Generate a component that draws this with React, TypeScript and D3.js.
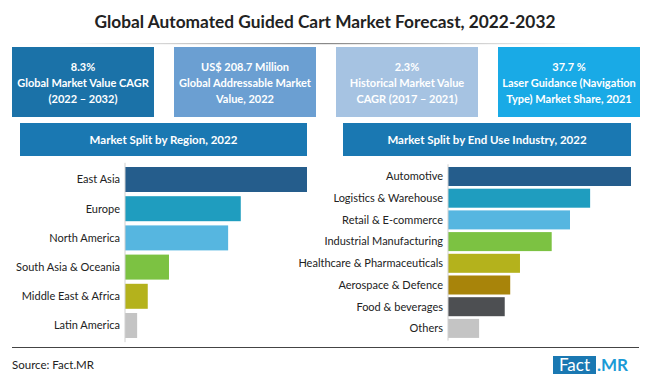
import React from "react";
import * as d3 from "d3";

const W = 650;
const H = 381;

const kpiValues = ["8.3%", "US$ 208.7 Million", "2.3%", "37.7 %"];
const kpiLabels = [
  ["Global Market Value CAGR", "(2022 – 2032)"],
  ["Global Addressable Market", "Value, 2022"],
  ["Historical Market Value", "CAGR  (2017 – 2021)"],
  ["Laser Guidance (Navigation", "Type) Market Share, 2021"],
];
const kpiColors = ["#1b72a8", "#6b9fd2", "#a6c3e2", "#19aae6"];

const regionCategories = [
  "East Asia",
  "Europe",
  "North America",
  "South Asia & Oceania",
  "Middle East & Africa",
  "Latin America",
];
const regionValues = [36, 22.9, 20.4, 8.7, 4.5, 2.4];
const regionColors = ["#255d8c", "#1f9dbf", "#56b6e0", "#7cc242", "#b4b21c", "#c4c4c4"];

const industryCategories = [
  "Automotive",
  "Logistics & Warehouse",
  "Retail & E-commerce",
  "Industrial Manufacturing",
  "Healthcare & Pharmaceuticals",
  "Aerospace & Defence",
  "Food & beverages",
  "Others",
];
const industryValues = [30, 23.3, 20.0, 17.0, 11.8, 10.2, 9.3, 5.1];
const industryColors = [
  "#255d8c",
  "#1f9dbf",
  "#56b6e0",
  "#7cc242",
  "#b4b21c",
  "#a8840a",
  "#4d4f52",
  "#c4c4c4",
];

const FONT = "Lato, 'Open Sans', sans-serif";

function BarPanel({
  cats,
  vals,
  colors,
  x0,
  x1,
  max,
  y0,
  y1,
  pad,
  title,
  hx0,
  hx1,
}: any) {
  const x = d3.scaleLinear().domain([0, max]).range([x0, x1]);
  const y = d3.scaleBand<string>().domain(cats).range([y0, y1]).paddingInner(pad).paddingOuter(pad);
  return (
    <g>
      <rect x={hx0} y={123} width={hx1 - hx0} height={33} fill="#1a78b2" />
      <text
        x={(hx0 + hx1) / 2}
        y={143.5}
        textAnchor="middle"
        fill="#fff"
        fontWeight="bold"
        fontSize={11.5}
        fontFamily={FONT}
      >
        {title}
      </text>
      {cats.map((c: string, i: number) => (
        <g key={c}>
          <rect
            x={x(0)}
            y={y(c)}
            width={x(vals[i]) - x(0)}
            height={y.bandwidth()}
            fill={colors[i]}
          />
          <text
            x={x(0) - 5}
            y={(y(c) as number) + y.bandwidth() / 2}
            dy="0.35em"
            textAnchor="end"
            fontSize={11}
            fill="#222"
            fontFamily={FONT}
          >
            {c}
          </text>
        </g>
      ))}
      <line x1={x(0)} x2={x(0)} y1={y0} y2={y1} stroke="#d0d0d0" strokeWidth={1} />
    </g>
  );
}

export default function App() {
  const boxX = [12, 174, 336, 498];
  const boxW = 142;
  return (
    <svg
      width={W}
      height={H}
      style={{ position: "absolute", left: 0, top: 0, background: "#fff" }}
      fontFamily={FONT}
    >
      <defs>
        <linearGradient id="tl" x1="0" x2="1" y1="0" y2="0">
          <stop offset="0" stopColor="#999" stopOpacity={0} />
          <stop offset="0.5" stopColor="#888" stopOpacity={1} />
          <stop offset="1" stopColor="#999" stopOpacity={0} />
        </linearGradient>
      </defs>
      <rect width={W} height={H} fill="#fff" />
      <text
        x={W / 2}
        y={28}
        textAnchor="middle"
        fontSize={17.3}
        fontWeight="bold"
        fill="#222"
        fontFamily={FONT}
      >
        Global Automated Guided Cart Market Forecast, 2022-2032
      </text>
      <rect x={60} y={43} width={530} height={1.2} fill="url(#tl)" />
      {kpiValues.map((v, i) => (
        <g key={i}>
          <rect x={boxX[i]} y={47} width={boxW} height={70} fill={kpiColors[i]} />
          <text
            x={boxX[i] + boxW / 2}
            textAnchor="middle"
            fill="#fff"
            fontWeight="bold"
            fontSize={11}
            fontFamily={FONT}
          >
            <tspan x={boxX[i] + boxW / 2} y={71}>
              {v}
            </tspan>
            <tspan x={boxX[i] + boxW / 2} y={87}>
              {kpiLabels[i][0]}
            </tspan>
            <tspan x={boxX[i] + boxW / 2} y={103}>
              {kpiLabels[i][1]}
            </tspan>
          </text>
        </g>
      ))}
      <BarPanel
        cats={regionCategories}
        vals={regionValues}
        colors={regionColors}
        x0={125}
        x1={307}
        max={36}
        y0={162.8}
        y1={342.2}
        pad={0.144}
        title="Market Split by Region, 2022"
        hx0={20}
        hx1={307}
      />
      <BarPanel
        cats={industryCategories}
        vals={industryValues}
        colors={industryColors}
        x0={448}
        x1={631}
        max={30}
        y0={164.3}
        y1={340.6}
        pad={0.124}
        title="Market Split by End Use Industry, 2022"
        hx0={343}
        hx1={631}
      />
      <line x1={12} x2={639} y1={347.5} y2={347.5} stroke="#444" strokeWidth={1} />
      <text x={12} y={369} fontSize={11.5} fill="#222" fontFamily={FONT}>
        Source: Fact.MR
      </text>
      <rect x={553} y={356} width={43} height={18} fill="#1a78b2" />
      <text x={574.5} y={371} textAnchor="middle" fontSize={17} fill="#fff" fontFamily={FONT}>
        Fact
      </text>
      <text x={597} y={371} fontSize={17} fontWeight="bold" fill="#1a9ad6" fontFamily={FONT}>
        .MR
      </text>
    </svg>
  );
}
